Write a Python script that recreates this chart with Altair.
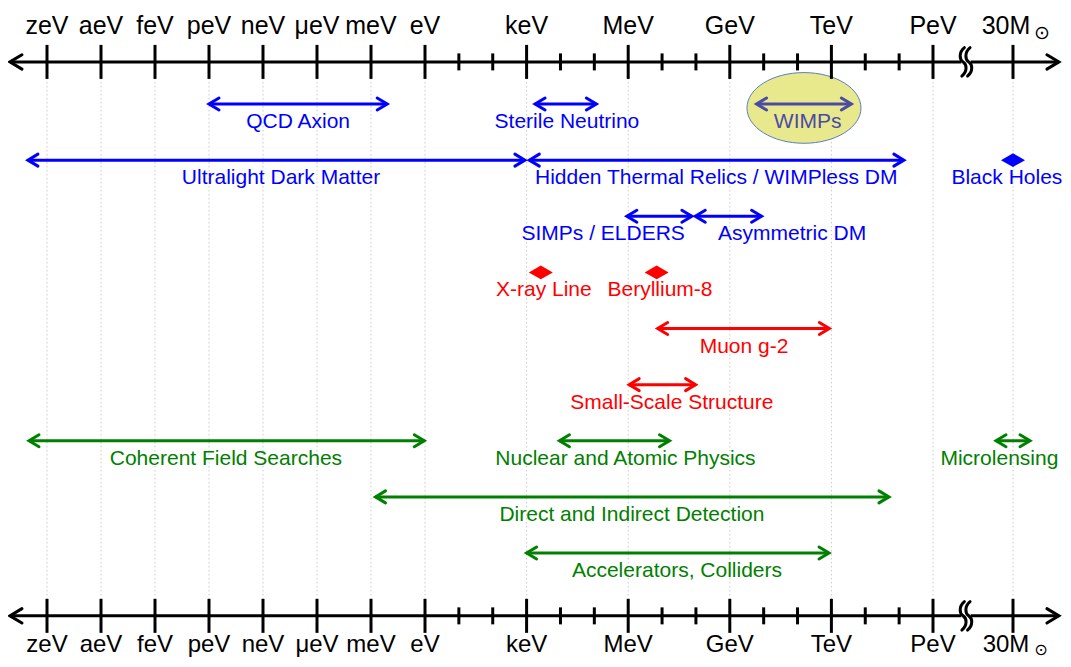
import altair as alt
import pandas as pd

# ---------------- data (x in log10(E / eV); 30 M_sun ~ 10^67.5 eV) ----------------
axis_labels = ["zeV", "aeV", "feV", "peV", "neV", "μeV", "meV", "eV",
               "keV", "MeV", "GeV", "TeV", "PeV"]
axis_major = [-21, -18, -15, -12, -9, -6, -3, 0, 3, 6, 9, 12, 15]
solar_label = ["30M"]
solar_major = [67.5]
axis_minor = [1, 2, 4, 5, 7, 8, 10, 11, 13, 14]

range_names = ["QCD Axion", "Sterile Neutrino", "WIMPs", "Ultralight Dark Matter",
               "Hidden Thermal Relics / WIMPless DM", "SIMPs / ELDERS", "Asymmetric DM",
               "Muon g-2", "Small-Scale Structure", "Coherent Field Searches",
               "Nuclear and Atomic Physics", "Microlensing",
               "Direct and Indirect Detection", "Accelerators, Colliders"]
range_lo = [-12.0, 3.25, 9.79, -22.06, 3.08, 5.96, 7.98, 6.87, 6.03, -22.0, 3.97, 67.0, -2.75, 3.0]
range_hi = [-2.1, 5.06, 12.59, 2.95, 14.14, 7.88, 9.94, 11.94, 7.99, -0.04, 7.22, 68.0, 13.7, 11.93]
range_row = [1, 1, 1, 2, 2, 3, 3, 5, 6, 7, 7, 7, 8, 9]
range_group = ["dm", "dm", "wimp", "dm", "dm", "dm", "dm", "anomaly", "anomaly",
               "probe", "probe", "probe", "probe", "probe"]

point_names = ["Black Holes", "X-ray Line", "Beryllium-8"]
point_x = [67.5, 3.42, 6.84]
point_row = [2, 4, 4]
point_group = ["dm", "anomaly", "anomaly"]

label_names = range_names + point_names
label_x = [-7.05, 4.19, 11.3, -8.0, 8.6, 5.26, 10.84, 9.42, 7.29, -11.06, 5.92, 67.1, 6.11, 7.44,
           67.32, 3.51, 6.94]
label_row = range_row + point_row
label_group = range_group + point_group

wimp_halo_x = [11.19]
wimp_halo_row = [1.07]

groups = ["dm", "wimp", "anomaly", "probe"]
group_colors = ["#0000ff", "#4b4ba6", "#ff0000", "#008000"]

# ---------------- layout helpers ----------------
AXIS_TOP, AXIS_BOTTOM = 0.25, 10.12
AXIS_MIN, AXIS_MAX = -23.06, 68.85
BREAK_AT = 51.9
FONT = "Liberation Sans"

xscale = alt.Scale(domain=[-21, 0, 15, 66.5, 68.5], range=[39, 417, 925, 971, 1039],
                   nice=False, zero=False)
yscale = alt.Scale(domain=[1, 9], range=[96, 545], nice=False, zero=False)
cscale = alt.Scale(domain=groups, range=group_colors)


def X(f):
    return alt.X(f, type="quantitative", scale=xscale, axis=None)


def Y(f):
    return alt.Y(f, type="quantitative", scale=yscale, axis=None)


C = alt.Color("group:N", scale=cscale, legend=None)

ranges = pd.DataFrame({"name": range_names, "lo": range_lo, "hi": range_hi,
                       "row": range_row, "group": range_group})
points = pd.DataFrame({"name": point_names, "x": point_x, "row": point_row, "group": point_group})
labels = pd.DataFrame({"name": label_names, "x": label_x, "row": label_row, "group": label_group})
majors = pd.DataFrame({"x": axis_major + solar_major, "label": axis_labels + solar_label})
major_ticks = pd.DataFrame([{"x": v, "row": r} for v in axis_major + solar_major
                            for r in (AXIS_TOP, AXIS_BOTTOM)])
minor_ticks = pd.DataFrame([{"x": v, "row": r} for v in axis_minor for r in (AXIS_TOP, AXIS_BOTTOM)])
axes = pd.DataFrame({"row": [AXIS_TOP, AXIS_BOTTOM], "lo": [AXIS_MIN] * 2, "hi": [AXIS_MAX] * 2})
breaks = pd.DataFrame({"x": [BREAK_AT] * 2, "row": [AXIS_TOP, AXIS_BOTTOM]})
halo = pd.DataFrame({"x": wimp_halo_x, "row": wimp_halo_row})
top_lab = pd.DataFrame({"x": axis_major, "label": axis_labels, "row": AXIS_TOP})
bot_lab = pd.DataFrame({"x": axis_major, "label": axis_labels, "row": AXIS_BOTTOM})
sol_top = pd.DataFrame({"x": solar_major, "label": solar_label, "row": AXIS_TOP})
sol_bot = pd.DataFrame({"x": solar_major, "label": solar_label, "row": AXIS_BOTTOM})

LEFT_HEAD = "M 1 -0.6 L 0 0 L 1 0.6"
RIGHT_HEAD = "M -1 -0.6 L 0 0 L -1 0.6"
DIAMOND = "M -1 0 L 0 -0.57 L 1 0 L 0 0.57 Z"
ELLIPSE = "M -1 0 A 1 0.62 0 1 1 1 0 A 1 0.62 0 1 1 -1 0 Z"
WHITE_BOX = "M -0.3 -0.15 L 0.3 -0.15 L 0.3 0.15 L -0.3 0.15 Z"
SQUIGGLE = ("M -0.1 -0.9 C -0.46 -0.6 -0.42 -0.15 -0.18 0 C 0.06 0.15 0.1 0.6 -0.26 0.9 "
            "M 0.26 -0.9 C -0.1 -0.6 -0.06 -0.15 0.18 0 C 0.42 0.15 0.46 0.6 0.1 0.9")

grid = alt.Chart(majors).mark_rule(color="#c8c8c8", strokeWidth=1, strokeDash=[1.5, 2.5]).encode(
    x=X("x"), y=alt.YDatum(AXIS_TOP, scale=yscale, axis=None), y2=alt.Y2Datum(AXIS_BOTTOM))

halo_l = alt.Chart(halo).mark_point(shape=ELLIPSE, size=114 ** 2, filled=True, fill="#e8e88c",
                                    stroke="#5b80c0", strokeWidth=1, opacity=1).encode(
    x=X("x"), y=Y("row"))

axis_line = alt.Chart(axes).mark_rule(color="black", strokeWidth=3).encode(
    x=X("lo"), x2="hi", y=Y("row"))
axis_lh = alt.Chart(axes).mark_point(shape=LEFT_HEAD, size=576, filled=False, color="black",
                                     strokeWidth=3, strokeCap="round", strokeJoin="miter",
                                     opacity=1).encode(x=X("lo"), y=Y("row"))
axis_rh = alt.Chart(axes).mark_point(shape=RIGHT_HEAD, size=576, filled=False, color="black",
                                     strokeWidth=3, strokeCap="round", strokeJoin="miter",
                                     opacity=1).encode(x=X("hi"), y=Y("row"))

ticks_major = alt.Chart(major_ticks).mark_tick(orient="vertical", size=34, thickness=3,
                                               color="black", opacity=1).encode(x=X("x"), y=Y("row"))
ticks_minor = alt.Chart(minor_ticks).mark_tick(orient="vertical", size=17, thickness=3,
                                               color="black", opacity=1).encode(x=X("x"), y=Y("row"))

brk_white = alt.Chart(breaks).mark_point(shape=WHITE_BOX, size=1000, filled=True, fill="white",
                                         strokeWidth=0, opacity=1).encode(x=X("x"), y=Y("row"))
brk_sq = alt.Chart(breaks).mark_point(shape=SQUIGGLE, size=1000, filled=False, color="black",
                                      strokeWidth=3, strokeCap="round", opacity=1).encode(
    x=X("x"), y=Y("row"))

shafts = alt.Chart(ranges).mark_rule(strokeWidth=3).encode(x=X("lo"), x2="hi", y=Y("row"), color=C)
lheads = alt.Chart(ranges).mark_point(shape=LEFT_HEAD, size=400, filled=False, strokeWidth=3,
                                      strokeCap="round", strokeJoin="miter", opacity=1).encode(
    x=X("lo"), y=Y("row"), color=C)
rheads = alt.Chart(ranges).mark_point(shape=RIGHT_HEAD, size=400, filled=False, strokeWidth=3,
                                      strokeCap="round", strokeJoin="miter", opacity=1).encode(
    x=X("hi"), y=Y("row"), color=C)

diamonds = alt.Chart(points).mark_point(shape=DIAMOND, size=576, filled=True, opacity=1).encode(
    x=X("x"), y=Y("row"), color=C)

texts = alt.Chart(labels).mark_text(font=FONT, fontSize=21, dy=18, align="center",
                                    baseline="middle").encode(
    x=X("x"), y=Y("row"), text="name:N", color=C)

tl = alt.Chart(top_lab).mark_text(font=FONT, fontSize=25, dy=-36, align="center",
                                  baseline="middle", color="black").encode(
    x=X("x"), y=Y("row"), text="label:N")
bl = alt.Chart(bot_lab).mark_text(font=FONT, fontSize=24, dy=29, align="center",
                                  baseline="middle", color="black").encode(
    x=X("x"), y=Y("row"), text="label:N")
st = alt.Chart(sol_top).mark_text(font=FONT, fontSize=25, dy=-36, dx=-7, align="center",
                                  baseline="middle", color="black").encode(
    x=X("x"), y=Y("row"), text="label:N")
sb = alt.Chart(sol_bot).mark_text(font=FONT, fontSize=24, dy=29, dx=-7, align="center",
                                  baseline="middle", color="black").encode(
    x=X("x"), y=Y("row"), text="label:N")
so_t = alt.Chart(sol_top).mark_text(font="DejaVu Sans", fontSize=19, dy=-29, dx=29, align="center",
                                    baseline="middle", color="black", text="⊙").encode(
    x=X("x"), y=Y("row"))
so_b = alt.Chart(sol_bot).mark_text(font="DejaVu Sans", fontSize=16, dy=34, dx=28, align="center",
                                    baseline="middle", color="black", text="⊙").encode(
    x=X("x"), y=Y("row"))

chart = alt.layer(
    grid, halo_l, axis_line, brk_white, brk_sq, axis_lh, axis_rh, ticks_major, ticks_minor,
    shafts, lheads, rheads, diamonds, texts, tl, bl, st, sb, so_t, so_b
).properties(
    width=1055, height=651, padding=0, autosize=alt.AutoSizeParams(type="none"),
    background="white"
).configure_view(stroke=None)

chart.save("out.html", embed_options={"renderer": "svg", "actions": False})
